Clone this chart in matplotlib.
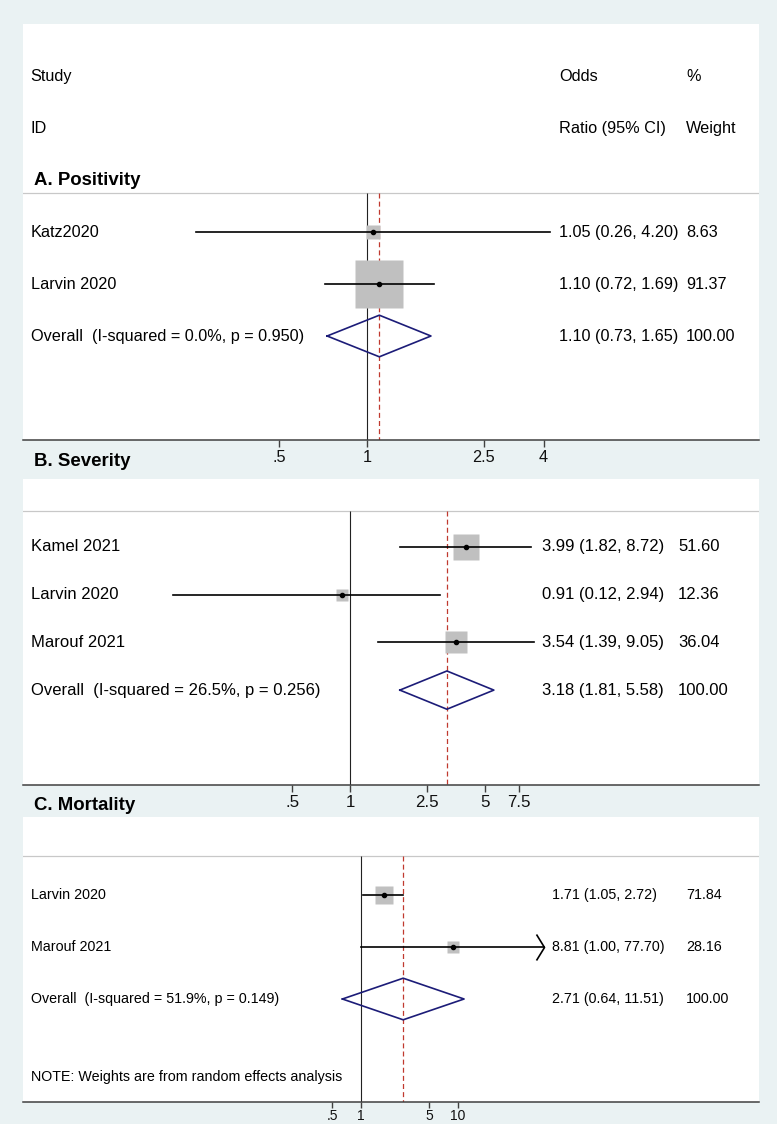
import numpy as np
import matplotlib.pyplot as plt
from matplotlib import transforms
from matplotlib.ticker import NullLocator

plt.rcParams['font.family'] = ['Liberation Sans', 'DejaVu Sans']

# ---- data ----
# A. Positivity
a_studies = ['Katz2020', 'Larvin 2020']
a_or = [1.05, 1.10]
a_lo = [0.26, 0.72]
a_hi = [4.20, 1.69]
a_wt = [8.63, 91.37]
a_overall = [1.10, 0.73, 1.65]
a_het = ['0.0%', '0.950']
a_ticks = [0.5, 1, 2.5, 4]
a_ticklabels = ['.5', '1', '2.5', '4']

# B. Severity
b_studies = ['Kamel 2021', 'Larvin 2020', 'Marouf 2021']
b_or = [3.99, 0.91, 3.54]
b_lo = [1.82, 0.12, 1.39]
b_hi = [8.72, 2.94, 9.05]
b_wt = [51.60, 12.36, 36.04]
b_overall = [3.18, 1.81, 5.58]
b_het = ['26.5%', '0.256']
b_ticks = [0.5, 1, 2.5, 5, 7.5]
b_ticklabels = ['.5', '1', '2.5', '5', '7.5']

# C. Mortality
c_studies = ['Larvin 2020', 'Marouf 2021']
c_or = [1.71, 8.81]
c_lo = [1.05, 1.00]
c_hi = [2.72, 77.70]
c_wt = [71.84, 28.16]
c_arrow = [False, True]
c_overall = [2.71, 0.64, 11.51]
c_het = ['51.9%', '0.149']
c_ticks = [0.5, 1, 5, 10]
c_ticklabels = ['.5', '1', '5', '10']

W, H = 777, 1124
BG = '#eaf2f3'
BOX_GRAY = '#c0c0c0'
NAVY = '#1c1c78'
RED = '#c0392f'

fig = plt.figure(figsize=(W / 100, H / 100), dpi=100, facecolor=BG)


def make_ax(left, right, top, bottom):
    ax = fig.add_axes([left / W, 1 - bottom / H, (right - left) / W, (bottom - top) / H])
    ax.set_facecolor('white')
    for s in ['top', 'left', 'right']:
        ax.spines[s].set_visible(False)
    ax.spines['bottom'].set_color('#404040')
    ax.spines['bottom'].set_linewidth(1.1)
    return ax


def draw_panel(ax, studies, ors, los, his, wts, overall, het, ticks, ticklabels,
               left, right, top, bottom, first_y, row_h, x1, k, fs, tick_fs,
               box_k, col_or, col_wt, arrows=None, tick_len=5, tick_pad=2.5):
    # x scale: pixel position of OR=1 and pixels per log unit
    ax.set_xscale('log')
    ax.set_xlim(np.exp((left - x1) / k), np.exp((right - x1) / k))
    ax.set_ylim((bottom - first_y) / row_h, -(first_y - top) / row_h)
    ax.set_yticks([])
    ax.set_xticks(ticks)
    ax.set_xticklabels(ticklabels)
    ax.xaxis.set_minor_locator(NullLocator())
    ax.tick_params(axis='x', length=tick_len, width=1, color='#404040', pad=tick_pad,
                   labelsize=tick_fs, labelcolor='#111111')

    n = len(studies)
    sep = -0.75
    ybot = ax.get_ylim()[0]
    ax.axhline(sep, color='#c8c8c8', lw=0.9)
    ax.vlines(1, sep, ybot, color='#222222', lw=0.8)
    ax.vlines(overall[0], sep, ybot, color=RED, lw=0.9, linestyles=(0, (4, 2.5)))

    tr = transforms.blended_transform_factory(fig.transFigure, ax.transData)
    for i in range(n):
        side = box_k * np.sqrt(wts[i]) * 0.72
        ax.plot(ors[i], i, marker='s', ms=side, mfc=BOX_GRAY, mec='none', zorder=2)
        ax.plot([los[i], his[i]], [i, i], color='black', lw=1.2, zorder=3)
        ax.plot(ors[i], i, marker='o', ms=3, color='black', zorder=4)
        if arrows is not None and arrows[i]:
            ax.plot(his[i], i, marker=[(-8, 13), (0, 0), (-8, -13)], ms=26 * 0.72,
                    mfc='none', mec='black', mew=1.2, zorder=4)
        ax.text(30.7 / W, i, studies[i], transform=tr, fontsize=fs, va='center')
        ax.text(col_or / W, i, f'{ors[i]:.2f} ({los[i]:.2f}, {his[i]:.2f})',
                transform=tr, fontsize=fs, va='center')
        ax.text(col_wt / W, i, f'{wts[i]:.2f}', transform=tr, fontsize=fs, va='center')

    # pooled estimate diamond
    est, lo, hi = overall
    yd = n
    ax.plot([lo, est, hi, est, lo], [yd, yd - 0.4, yd, yd + 0.4, yd],
            color=NAVY, lw=1.2, zorder=4)
    ax.text(30.7 / W, yd, f'Overall  (I-squared = {het[0]}, p = {het[1]})',
            transform=tr, fontsize=fs, va='center')
    ax.text(col_or / W, yd, f'{est:.2f} ({lo:.2f}, {hi:.2f})', transform=tr,
            fontsize=fs, va='center')
    ax.text(col_wt / W, yd, '100.00', transform=tr, fontsize=fs, va='center')
    return tr


# panel A
axA = make_ax(23, 759, 24, 440)
trA = draw_panel(axA, a_studies, a_or, a_lo, a_hi, a_wt, a_overall, a_het,
                 a_ticks, a_ticklabels, 23, 759, 24, 440, 232, 52, 367.2, 127.3,
                 11.7, 11.7, 4.95, 559, 686)
axA.text(30.7 / W, -3, 'Study', transform=trA, fontsize=11.7, va='center')
axA.text(30.7 / W, -2, 'ID', transform=trA, fontsize=11.7, va='center')
axA.text(559 / W, -3, 'Odds', transform=trA, fontsize=11.7, va='center')
axA.text(559 / W, -2, 'Ratio (95% CI)', transform=trA, fontsize=11.7, va='center')
axA.text(686 / W, -3, '%', transform=trA, fontsize=11.7, va='center')
axA.text(686 / W, -2, 'Weight', transform=trA, fontsize=11.7, va='center')
axA.text(33.7 / W, -1, 'A. Positivity', transform=trA, fontsize=13.4,
         fontweight='bold', va='center')

# panel B
axB = make_ax(23, 759, 479, 785)
draw_panel(axB, b_studies, b_or, b_lo, b_hi, b_wt, b_overall, b_het,
           b_ticks, b_ticklabels, 23, 759, 479, 785, 546.7, 47.8, 350.3, 83.5,
           12.0, 12.2, 3.5, 541.6, 678)
fig.text(33.7 / W, 1 - 461 / H, 'B. Severity', fontsize=13.4, fontweight='bold',
         va='center')

# panel C (labels pulled up a little so they stay inside the image)
axC = make_ax(23, 759, 817, 1102)
trC = draw_panel(axC, c_studies, c_or, c_lo, c_hi, c_wt, c_overall, c_het,
                 c_ticks, c_ticklabels, 23, 759, 817, 1102, 895, 52, 361.2, 42.1,
                 10.3, 10.0, 2.1, 552.5, 686, arrows=c_arrow,
                 tick_len=4.3, tick_pad=0.5)
axC.text(30.7 / W, 3.5, 'NOTE: Weights are from random effects analysis',
         transform=trC, fontsize=10.3, va='center')
fig.text(33.7 / W, 1 - 805 / H, 'C. Mortality', fontsize=13.4, fontweight='bold',
         va='center')

fig.savefig('out.png', dpi=100, facecolor=BG)
